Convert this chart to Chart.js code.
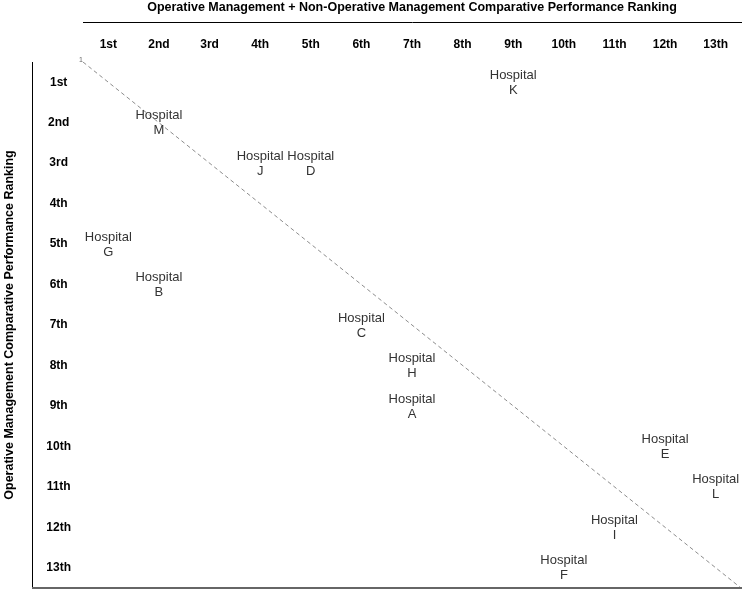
<!DOCTYPE html>
<html>
<head>
<meta charset="utf-8">
<script src="https://cdn.jsdelivr.net/npm/chart.js@4/dist/chart.umd.min.js"></script>
<style>
  html, body { margin: 0; padding: 0; background: #fff; }
  #wrap { width: 742px; height: 589px; }
</style>
</head>
<body>
<div id="wrap"><canvas id="c" width="742" height="589"></canvas></div>
<script>
const rankLabels = ['1st','2nd','3rd','4th','5th','6th','7th','8th','9th','10th','11th','12th','13th'];
const hospitals = ['A','B','C','D','E','F','G','H','I','J','K','L','M'];
const combinedRank = [7, 2, 6, 5, 12, 10, 1, 7, 11, 4, 9, 13, 2];
const operativeRank = [9, 6, 7, 3, 10, 13, 5, 8, 12, 3, 1, 11, 2];
const diagonalX = [0.5, 13.5];
const diagonalY = [0.5, 13.5];

const FONT = "'Liberation Sans', Arial, sans-serif";

const hospitalPoints = hospitals.map((h, i) => ({ x: combinedRank[i], y: operativeRank[i], name: h }));
const diagonalPoints = diagonalX.map((x, i) => ({ x: x, y: diagonalY[i] }));

const labelPlugin = {
  id: 'hospitalLabels',
  afterDatasetsDraw(chart) {
    const ctx = chart.ctx;
    const meta = chart.getDatasetMeta(1);
    ctx.save();
    ctx.fillStyle = '#333';
    ctx.font = '13px ' + FONT;
    ctx.textAlign = 'center';
    ctx.textBaseline = 'middle';
    meta.data.forEach((el, i) => {
      const p = chart.data.datasets[1].data[i];
      ctx.fillText('Hospital', el.x, el.y - 7);
      ctx.fillText(p.name, el.x, el.y + 8);
    });
    const dmeta = chart.getDatasetMeta(0);
    const d0 = dmeta.data[0];
    ctx.fillStyle = '#666';
    ctx.font = '7px ' + FONT;
    ctx.fillText('1', d0.x - 2, d0.y - 2);
    ctx.restore();
  },
  afterDraw(chart) {
    const ctx = chart.ctx;
    const xs = chart.scales.x, ys = chart.scales.y;
    const ca = chart.chartArea;
    ctx.save();
    ctx.strokeStyle = '#000';
    ctx.lineWidth = 1;
    ctx.beginPath();
    ctx.moveTo(ca.left, xs.top + 22.5);
    ctx.lineTo(chart.width, xs.top + 22.5);
    ctx.stroke();
    ctx.beginPath();
    ctx.moveTo(ys.left + 32.5, ca.top);
    ctx.lineTo(ys.left + 32.5, ca.bottom);
    ctx.stroke();
    ctx.strokeStyle = '#666';
    ctx.lineWidth = 2;
    ctx.beginPath();
    ctx.moveTo(ys.left + 32, ca.bottom);
    ctx.lineTo(chart.width, ca.bottom);
    ctx.stroke();
    ctx.restore();
  }
};

new Chart(document.getElementById('c'), {
  type: 'scatter',
  data: {
    datasets: [
      {
        type: 'line',
        data: diagonalPoints,
        borderColor: '#8c8c8c',
        borderWidth: 1,
        borderDash: [4, 3],
        pointRadius: 0,
        fill: false
      },
      {
        data: hospitalPoints,
        pointRadius: 0,
        backgroundColor: 'transparent',
        borderColor: 'transparent'
      }
    ]
  },
  options: {
    responsive: false,
    animation: false,
    devicePixelRatio: 1,
    layout: { padding: { top: 0, left: 0, right: 1, bottom: 1 } },
    plugins: { legend: { display: false }, tooltip: { enabled: false } },
    scales: {
      x: {
        type: 'linear',
        position: 'top',
        min: 0.5,
        max: 13.5,
        grid: { display: false, drawTicks: false },
        border: { display: false },
        afterBuildTicks(scale) { scale.ticks = rankLabels.map((_, i) => ({ value: i + 1 })); },
        afterFit(scale) { scale.height = 62; scale.paddingLeft = 0; scale.paddingRight = 0; },
        ticks: {
          autoSkip: false,
          maxRotation: 0,
          padding: 10,
          color: '#000',
          font: { family: FONT, size: 12, weight: 'bold' },
          callback: (v) => rankLabels[Math.round(v) - 1]
        },
        title: {
          display: true,
          text: 'Operative Management + Non-Operative Management Comparative Performance Ranking',
          color: '#000',
          font: { family: FONT, size: 12.5, weight: 'bold', lineHeight: 1 },
          padding: { top: 1, bottom: 0 }
        }
      },
      y: {
        type: 'linear',
        reverse: true,
        min: 0.5,
        max: 13.5,
        grid: { display: false, drawTicks: false },
        border: { display: false },
        afterBuildTicks(scale) { scale.ticks = rankLabels.map((_, i) => ({ value: i + 1 })); },
        afterFit(scale) { scale.width = 83; scale.paddingTop = 0; scale.paddingBottom = 0; },
        ticks: {
          autoSkip: false,
          padding: 12,
          crossAlign: 'center',
          color: '#000',
          font: { family: FONT, size: 12, weight: 'bold' },
          callback: (v) => rankLabels[Math.round(v) - 1]
        },
        title: {
          display: true,
          text: 'Operative Management Comparative Performance Ranking',
          color: '#000',
          font: { family: FONT, size: 12.5, weight: 'bold', lineHeight: 1.2 },
          padding: { top: 2, bottom: 0 }
        }
      }
    }
  },
  plugins: [labelPlugin]
});
</script>
</body>
</html>
